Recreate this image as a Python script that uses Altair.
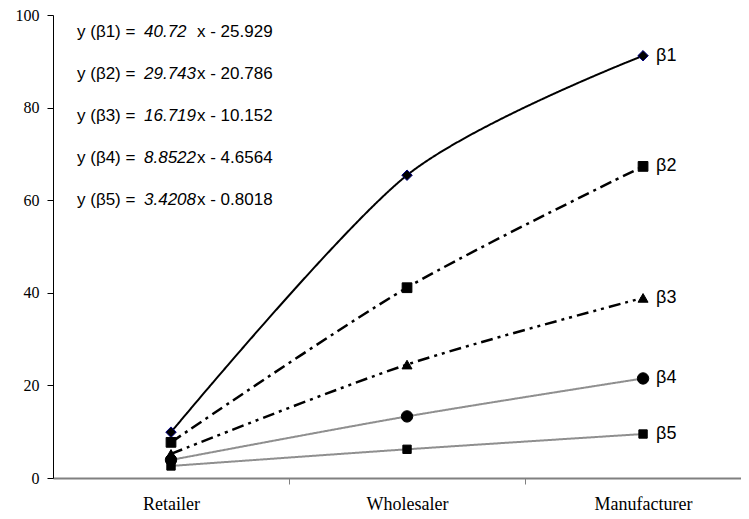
import json
import altair as alt
import pandas as pd

# ---- data ----
categories = ["Retailer", "Wholesaler", "Manufacturer"]
series = ["β1", "β2", "β3", "β4", "β5"]
b1 = [9.9, 65.4, 91.2]
b2 = [7.7, 41.1, 67.3]
b3 = [5.2, 24.5, 38.9]
b4 = [3.9, 13.3, 21.5]
b5 = [2.6, 6.2, 9.5]
eq_names = ["y (β1) =", "y (β2) =", "y (β3) =", "y (β4) =", "y (β5) ="]
slopes = ["40.72", "29.743", "16.719", "8.8522", "3.4208"]
intercepts = ["x - 25.929", "x - 20.786", "x - 10.152", "x - 4.6564", "x - 0.8018"]
y_ticks = [0, 20, 40, 60, 80, 100]

values = [b1, b2, b3, b4, b5]
rows = []
for s, vals in zip(series, values):
    for i, (c, v) in enumerate(zip(categories, vals)):
        rows.append({"series": s, "category": c, "pos": i, "value": v})
df = pd.DataFrame(rows)
last = df[df["pos"] == len(categories) - 1]

eq_df = pd.DataFrame({"row": list(range(len(eq_names))), "name": eq_names,
                      "slope": slopes, "icpt": intercepts})

# ---- styles ----
styles = {
    "β1": dict(stroke="black", width=2, dash=[1, 0], shape="diamond", size=110, mstroke="#000080"),
    "β2": dict(stroke="black", width=2.5, dash=[12, 5, 3, 5], shape="square", size=95, mstroke="black"),
    "β3": dict(stroke="black", width=2.5, dash=[12, 5, 3, 5, 3, 5], shape="triangle-up", size=100, mstroke="black"),
    "β4": dict(stroke="#8f8f8f", width=2, dash=[1, 0], shape="circle", size=130, mstroke="black"),
    "β5": dict(stroke="#8f8f8f", width=2, dash=[1, 0], shape="square", size=70, mstroke="black"),
}

xscale = alt.Scale(domain=[-0.5, 2.415], nice=False, zero=False)
yscale = alt.Scale(domain=[0, 100], nice=False, zero=True)

label_expr = json.dumps(categories) + "[datum.value]"
label_axis = alt.Axis(values=list(range(len(categories))), labelExpr=label_expr, ticks=False,
                      domain=True, domainColor="#808080", domainWidth=2, grid=False,
                      labelFont="Liberation Serif", labelFontSize=18, labelColor="black",
                      labelPadding=17, title=None, orient="bottom")
tick_axis = alt.Axis(values=[i + 0.5 for i in range(len(categories) - 1)], labels=False,
                     ticks=True, tickColor="#808080", tickSize=6, tickWidth=1,
                     domain=False, grid=False, title=None, orient="bottom")
y_axis = alt.Axis(values=y_ticks, grid=False, domainColor="black", tickColor="black",
                  tickSize=6, labelFont="Liberation Serif", labelFontSize=16,
                  labelColor="black", labelPadding=8, title=None)


def Y(field):
    return alt.Y(field, scale=yscale, axis=y_axis)


base = alt.Chart(df)
layers = []
for k, s in enumerate(series):
    st = styles[s]
    if k == 0:
        xax = label_axis
    elif k == 1:
        xax = tick_axis
    else:
        xax = None
    line = base.transform_filter(alt.datum.series == s).mark_line(
        color=st["stroke"], strokeWidth=st["width"], strokeDash=st["dash"],
        interpolate="cardinal", tension=0.15
    ).encode(
        x=alt.X("pos:Q", scale=xscale, axis=xax),
        y=Y("value:Q"),
    )
    layers.append(line)
for s in series:
    st = styles[s]
    pts = base.transform_filter(alt.datum.series == s).mark_point(
        filled=True, shape=st["shape"], size=st["size"], fill="black",
        stroke=st["mstroke"], strokeWidth=1, opacity=1
    ).encode(
        x=alt.X("pos:Q", scale=xscale, axis=None),
        y=Y("value:Q"),
    )
    layers.append(pts)

series_labels = alt.Chart(last).mark_text(
    align="left", baseline="middle", dx=13, font="Liberation Sans", fontSize=18, color="black"
).encode(
    x=alt.X("pos:Q", scale=xscale, axis=None),
    y=Y("value:Q"),
    text="series:N",
)
layers.append(series_labels)

eq_base = alt.Chart(eq_df).transform_calculate(yv="96.3 - 9.07*datum.row")
eq_common = dict(baseline="middle", align="left", font="Liberation Sans", fontSize=17, color="black")
eq_name = eq_base.mark_text(**eq_common).encode(
    x=alt.value(24), y=Y("yv:Q"), text="name:N")
eq_slope = eq_base.mark_text(fontStyle="italic", **eq_common).encode(
    x=alt.value(91), y=Y("yv:Q"), text="slope:N")
eq_icpt = eq_base.mark_text(**eq_common).encode(
    x=alt.value(144), y=Y("yv:Q"), text="icpt:N")
layers += [eq_name, eq_slope, eq_icpt]

chart = alt.layer(*layers).resolve_axis(x="independent").properties(
    width=688, height=463,
    padding={"left": 45, "top": 7, "right": 0, "bottom": 35},
    autosize=alt.AutoSizeParams(type="none"),
    background="white",
).configure_view(stroke=None)

chart.save("out.html", embed_options={"renderer": "svg", "actions": False})
